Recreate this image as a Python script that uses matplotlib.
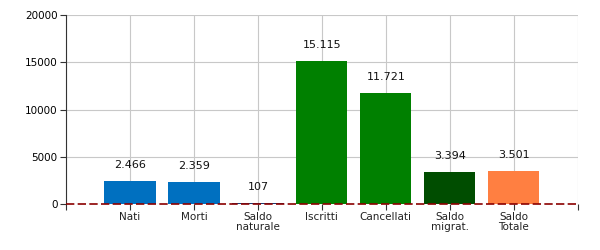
import matplotlib
matplotlib.use("Agg")
import matplotlib.pyplot as plt

categories = ["Nati", "Morti", "Saldo\nnaturale", "Iscritti", "Cancellati", "Saldo\nmigrat.", "Saldo\nTotale"]
values = [2466, 2359, 107, 15115, 11721, 3394, 3501]
colors = ["#0070C0", "#0070C0", "#1F3A6E", "#008000", "#008000", "#004D00", "#FF7F41"]
yticks = [0, 5000, 10000, 15000, 20000]

def fmt(v):
    return f"{v:,}".replace(",", ".")

fig = plt.figure(figsize=(6, 2.5), dpi=100)
ax = fig.add_axes([0.11, 0.184, 0.853, 0.756])

x = list(range(len(categories)))
ax.bar(x, values, width=0.8, color=colors, zorder=2)
for xi, v in zip(x, values):
    ax.annotate(fmt(v), (xi, v), xytext=(0, 8), textcoords="offset points",
                ha="center", va="bottom", fontsize=8, color="#111111")

ax.set_xlim(-1, 7)
ax.set_ylim(0, 20000)
ax.set_yticks(yticks)
ax.set_yticklabels([str(t) for t in yticks], fontsize=7.5)
ax.set_xticks(list(range(-1, 8)))
ax.set_xticklabels([""] + categories + [""], fontsize=7.5, color="#222222", linespacing=1.0)
ax.grid(True, color="#c8c8c8", linewidth=0.8, zorder=0)
ax.set_axisbelow(True)
for s in ["top", "right"]:
    ax.spines[s].set_visible(False)
ax.spines["bottom"].set_visible(False)
ax.spines["left"].set_color("#333333")
ax.tick_params(axis="both", direction="out", length=4, color="#333333", width=0.8, pad=2)
ax.axhline(0, color="#8B0000", linestyle="--", linewidth=1.2, dashes=(5, 2), zorder=3, clip_on=False)

fig.savefig("out.png", dpi=100)
